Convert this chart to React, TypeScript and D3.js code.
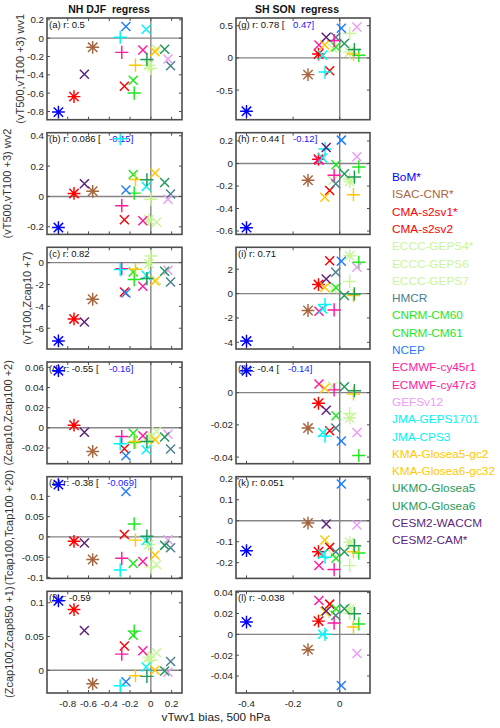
import React from 'react';
import * as d3 from 'd3';

// ---------------- DATA ----------------
const MODELS = [
  'BoM*', 'ISAC-CNR*', 'CMA-s2sv1*', 'CMA-s2sv2', 'ECCC-GEPS4*', 'ECCC-GEPS6', 'ECCC-GEPS7',
  'HMCR', 'CNRM-CM60', 'CNRM-CM61', 'NCEP', 'ECMWF-cy45r1', 'ECMWF-cy47r3', 'GEFSv12',
  'JMA-GEPS1701', 'JMA-CPS3', 'KMA-Glosea5-gc2', 'KMA-Glosea6-gc32', 'UKMO-Glosea5',
  'UKMO-Glosea6', 'CESM2-WACCM', 'CESM2-CAM*',
];
const COLORS = [
  '#0000ff', '#a8663f', '#ff0000', '#ff0000', '#c9f59b', '#c9f59b', '#c9f59b',
  '#4a7f8f', '#1ee81e', '#1ee81e', '#1f7cff', '#ff1aa0', '#ff1aa0', '#ea9cf7',
  '#00f5f5', '#00f5f5', '#ffc800', '#ffc800', '#1f9a57', '#1f9a57', '#5c1f7c', '#5c1f7c',
];
const MARKERS = [
  'star', 'star', 'star', 'x', 'star', 'x', 'plus',
  'x', 'x', 'plus', 'x', 'x', 'plus', 'x',
  'x', 'plus', 'x', 'plus', 'x', 'plus', 'x', 'star',
];

// vTwv1 bias, 500 hPa (x) for each model
const NH_X = [-0.89, -0.56, -0.74, -0.255, -0.02, 0.055, 0.0, 0.19, -0.17, -0.16, -0.24, -0.077, -0.28, 0.165, -0.045, -0.295, 0.04, -0.148, 0.133, -0.038, -0.64, null];
const SH_X = [-0.40, -0.136, -0.091, -0.043, 0.043, -0.03, 0.043, -0.017, -0.016, 0.082, 0.007, -0.089, -0.024, 0.074, -0.073, -0.063, -0.064, 0.059, 0.02, 0.063, -0.058, null];

// NH DJF regress values
const VAL_A = [-0.807, -0.10, -0.638, -0.525, -0.295, -0.12, -0.33, -0.30, -0.459, -0.599, 0.127, -0.13, -0.155, -0.228, 0.098, 0.01, -0.147, -0.295, -0.122, -0.232, -0.393, null];
const VAL_B = [-0.205, 0.034, 0.02, -0.153, -0.153, -0.17, -0.018, 0.016, 0.144, 0.022, 0.043, -0.16, -0.061, -0.018, 0.065, 0.38, 0.155, 0.112, 0.092, 0.11, 0.083, null];
const VAL_C = [-7.16, -3.35, -5.15, -2.68, -0.09, -1.62, 0.6, -1.77, -0.85, -1.55, -2.77, -2.16, -0.55, -0.70, -1.16, -0.64, -1.68, -0.61, -0.79, -1.46, -5.43, null];
const VAL_D = [0.0567, -0.0234, 0.0026, -0.0208, -0.010, -0.0036, -0.012, -0.0211, -0.0053, -0.0145, -0.0277, -0.0079, -0.0086, -0.0063, -0.0218, -0.0158, -0.0119, -0.0135, -0.0092, -0.0135, -0.0043, null];
const VAL_E = [0.129, -0.056, -0.011, 0.006, -0.019, -0.068, -0.074, -0.027, -0.066, 0.032, 0.112, -0.061, -0.053, -0.007, -0.009, -0.082, -0.045, -0.008, -0.021, 0.0016, -0.015, null];
const VAL_F = [0.103, -0.020, 0.090, 0.036, 0.019, 0.026, 0.015, 0.013, 0.052, 0.058, -0.017, 0.029, 0.024, -0.003, 0.005, -0.023, 0.000, -0.008, -0.001, -0.009, 0.059, null];

// SH SON regress values
const VAL_G = [-0.83, -0.26, 0.06, -0.20, 0.09, 0.15, 0.38, 0.32, 0.17, 0.04, 0.46, 0.20, 0.27, 0.48, 0.04, -0.22, 0.20, 0.06, 0.225, 0.13, 0.32, null];
const VAL_H = [-0.57, -0.149, 0.038, -0.24, -0.16, -0.15, -0.14, -0.18, -0.01, -0.03, 0.208, 0.03, -0.104, 0.06, 0.05, 0.13, -0.30, -0.277, -0.09, -0.12, 0.143, null];
const VAL_I = [-3.9, -1.39, 0.74, 2.7, 3.1, 0.4, 1.0, 1.75, 0.47, 2.57, 2.65, -1.45, -1.34, 2.16, -1.26, -0.9, 0.52, -0.16, -0.16, -0.03, 1.2, null];
const VAL_J = [0.0136, -0.022, -0.0066, -0.0237, -0.0158, 0.004, -0.013, -0.022, -0.0144, -0.039, -0.030, 0.0054, 0.0017, -0.0248, -0.0248, -0.027, 0.0027, -0.0008, 0.0037, 0.0012, -0.011, null];
const VAL_K = [-0.143, -0.011, -0.148, -0.127, -0.103, -0.16, -0.214, -0.148, -0.179, -0.154, 0.175, -0.214, -0.233, -0.02, -0.16, -0.174, -0.092, -0.148, -0.148, -0.119, -0.016, null];
const VAL_L = [0.0118, -0.0147, 0.0127, 0.029, 0.024, 0.02, 0.02, 0.018, 0.0246, 0.010, -0.049, 0.0325, 0.0108, -0.0185, 0.0, 0.0, 0.022, 0.007, 0.0246, 0.0198, 0.0223, null];

// tick values
const NH_XTICKS = [-0.8, -0.6, -0.4, -0.2, 0, 0.2];
const SH_XTICKS = [-0.4, -0.2, 0];
const TICKS_A = [-0.8, -0.6, -0.4, -0.2, 0, 0.2];
const TICKS_B = [-0.2, 0, 0.2, 0.4];
const TICKS_C = [-6, -4, -2, 0];
const TICKS_D = [-0.02, 0, 0.02, 0.04, 0.06];
const TICKS_E = [-0.1, -0.05, 0, 0.05, 0.1];
const TICKS_F = [0, 0.05, 0.1];
const TICKS_G = [-0.5, 0, 0.5];
const TICKS_H = [-0.6, -0.4, -0.2, 0, 0.2];
const TICKS_I = [-4, -2, 0, 2];
const TICKS_J = [-0.04, -0.02, 0];
const TICKS_K = [-0.2, -0.1, 0, 0.1, 0.2];
const TICKS_L = [-0.04, -0.02, 0, 0.02, 0.04];

const Y_LABELS = ['(vT500,vT100 +3) wv1', '(vT500,vT100 +3) wv2', '(vT100,Zcap10 +7)', '(Zcap10,Zcap100 +2)', '(Tcap100,Tcap100 +20)', '(Zcap100,Zcap850 +1)'];
const R_TEXT = ['0.5', '0.086', '0.82', '-0.55', '-0.38', '-0.59', '0.78', '0.44', '0.71', '-0.4', '0.051', '-0.038'];
const BRACKET = [null, '-0.15]', null, '-0.16]', '-0.069]', null, '0.47]', '-0.12]', null, '-0.14]', null, null];
const TITLES = ['NH DJF  regress', 'SH SON  regress'];
const X_TITLE = 'vTwv1 bias, 500 hPa';

// ---------------- LAYOUT ----------------
const FONT = 'Liberation Sans, Arial, Helvetica, sans-serif';
const COL_LEFT = [47, 236];
const COL_W = [135, 134];
const ROW_TOP = [18, 132.7, 247.3, 362, 476.7, 591.3];
const PANEL_H = 101.7;
const YLABEL_X = [20, 7, 27, 8, 9, 9];
const BRACKET_DX = [62, 62, 62, 62, 60, 62, 57, 57, 57, 52, 57, 57];

const PANELS = [
  { id: 'a', col: 0, row: 0, vals: VAL_A, domain: [-0.89, 0.22], ticks: TICKS_A },
  { id: 'b', col: 0, row: 1, vals: VAL_B, domain: [-0.25, 0.42], ticks: TICKS_B },
  { id: 'c', col: 0, row: 2, vals: VAL_C, domain: [-7.9, 1.4], ticks: TICKS_C },
  { id: 'd', col: 0, row: 3, vals: VAL_D, domain: [-0.0356, 0.0653], ticks: TICKS_D },
  { id: 'e', col: 0, row: 4, vals: VAL_E, domain: [-0.1025, 0.1485], ticks: TICKS_E },
  { id: 'f', col: 0, row: 5, vals: VAL_F, domain: [-0.0336, 0.117], ticks: TICKS_F },
  { id: 'g', col: 1, row: 0, vals: VAL_G, domain: [-0.96, 0.62], ticks: TICKS_G },
  { id: 'h', col: 1, row: 1, vals: VAL_H, domain: [-0.63, 0.274], ticks: TICKS_H },
  { id: 'i', col: 1, row: 2, vals: VAL_I, domain: [-4.55, 3.8], ticks: TICKS_I },
  { id: 'j', col: 1, row: 3, vals: VAL_J, domain: [-0.0441, 0.019], ticks: TICKS_J },
  { id: 'k', col: 1, row: 4, vals: VAL_K, domain: [-0.275, 0.21], ticks: TICKS_K },
  { id: 'l', col: 1, row: 5, vals: VAL_L, domain: [-0.0563, 0.0413], ticks: TICKS_L },
];

const fmt = (v: number) => String(+v.toFixed(4));

function markerPath(kind: string): string {
  const p = d3.path();
  if (kind === 'x') {
    const r = 4.5;
    p.moveTo(-r, -r); p.lineTo(r, r);
    p.moveTo(-r, r); p.lineTo(r, -r);
  } else if (kind === 'plus') {
    const r = 6.6;
    p.moveTo(-r, 0); p.lineTo(r, 0);
    p.moveTo(0, -r); p.lineTo(0, r);
  } else {
    const r = 6.4;
    const d = 4.7;
    p.moveTo(-r, 0); p.lineTo(r, 0);
    p.moveTo(0, -r); p.lineTo(0, r);
    p.moveTo(-d, -d); p.lineTo(d, d);
    p.moveTo(-d, d); p.lineTo(d, -d);
  }
  return p.toString();
}

function Panel({ cfg, index }: { cfg: any; index: number }) {
  const left = COL_LEFT[cfg.col];
  const w = COL_W[cfg.col];
  const top = ROW_TOP[cfg.row];
  const xDomain = cfg.col === 0 ? [-1.0, 0.3] : [-0.445, 0.13];
  const xs = cfg.col === 0 ? NH_X : SH_X;
  const xTicks = cfg.col === 0 ? NH_XTICKS : SH_XTICKS;
  const x = d3.scaleLinear().domain(xDomain).range([left, left + w]);
  const y = d3.scaleLinear().domain(cfg.domain).range([top + PANEL_H, top]);
  const bottom = top + PANEL_H;
  const right = left + w;
  const tl = 3;
  const clipId = `clip-${cfg.id}`;
  const frame = '#4d4d4d';
  return (
    <g>
      <defs>
        <clipPath id={clipId}>
          <rect x={left} y={top} width={w} height={PANEL_H} />
        </clipPath>
      </defs>
      <rect x={left} y={top} width={w} height={PANEL_H} fill="#fff" />
      {/* zero lines */}
      <line x1={x(0)} x2={x(0)} y1={top} y2={bottom} stroke="#858585" strokeWidth={1.4} />
      <line x1={left} x2={right} y1={y(0)} y2={y(0)} stroke="#858585" strokeWidth={1.4} />
      {/* ticks */}
      {xTicks.map((t) => (
        <g key={'xt' + t}>
          <line x1={x(t)} x2={x(t)} y1={top} y2={top + tl} stroke={frame} strokeWidth={1} />
          <line x1={x(t)} x2={x(t)} y1={bottom} y2={bottom - tl} stroke={frame} strokeWidth={1} />
        </g>
      ))}
      {cfg.ticks.map((t: number) => (
        <g key={'yt' + t}>
          <line x1={left} x2={left + tl} y1={y(t)} y2={y(t)} stroke={frame} strokeWidth={1} />
          <line x1={right} x2={right - tl} y1={y(t)} y2={y(t)} stroke={frame} strokeWidth={1} />
          <text x={left - 3} y={y(t)} dy="0.35em" textAnchor="end" fontSize={9.8} fill="#262626" fontFamily={FONT}>
            {fmt(t)}
          </text>
        </g>
      ))}
      {cfg.row === 5 &&
        xTicks.map((t) => (
          <text key={'xl' + t} x={x(t)} y={bottom + 13.5} textAnchor="middle" fontSize={9.8} fill="#262626" fontFamily={FONT}>
            {fmt(t)}
          </text>
        ))}
      {/* annotation */}
      <text x={left + 2} y={top + 9.5} fontSize={9.5} fill="#111" fontFamily={FONT} style={{ whiteSpace: 'pre' }}>
        {`(${cfg.id}) r: ${R_TEXT[index]}${BRACKET[index] ? ' [' : ''}`}
      </text>
      {BRACKET[index] && (
        <text x={left + BRACKET_DX[index]} y={top + 9.5} fontSize={9.5} fill="#1a1aff" fontFamily={FONT}>
          {BRACKET[index]}
        </text>
      )}
      {/* markers */}
      <g clipPath={`url(#${clipId})`}>
        {MODELS.map((m, i) => {
          const xv = xs[i];
          const yv = cfg.vals[i];
          if (xv == null || yv == null) return null;
          return (
            <path
              key={m}
              d={markerPath(MARKERS[i])}
              transform={`translate(${x(xv)},${y(yv)})`}
              stroke={COLORS[i]}
              strokeWidth={1.45}
              fill="none"
            />
          );
        })}
      </g>
      {/* frame */}
      <rect x={left} y={top} width={w} height={PANEL_H} fill="none" stroke={frame} strokeWidth={1.6} />
      {cfg.col === 0 && (
        <text
          transform={`translate(${YLABEL_X[cfg.row]},${top + PANEL_H / 2}) rotate(-90)`}
          textAnchor="middle"
          dominantBaseline="central"
          fontSize={11}
          fill="#333"
          fontFamily={FONT}
        >
          {Y_LABELS[cfg.row]}
        </text>
      )}
    </g>
  );
}

export default function App() {
  return (
    <svg
      width={500}
      height={728}
      viewBox="0 0 500 728"
      style={{ position: 'absolute', left: 0, top: 0, background: '#fff' }}
    >
      <rect x={0} y={0} width={500} height={728} fill="#fff" />
      <text x={109} y={13} textAnchor="middle" fontSize={10.5} fontWeight="bold" fill="#111" fontFamily={FONT} style={{ whiteSpace: 'pre' }}>
        {TITLES[0]}
      </text>
      <text x={297} y={13} textAnchor="middle" fontSize={10.5} fontWeight="bold" fill="#111" fontFamily={FONT} style={{ whiteSpace: 'pre' }}>
        {TITLES[1]}
      </text>
      {PANELS.map((p, i) => (
        <Panel key={p.id} cfg={p} index={i} />
      ))}
      <text x={216} y={720.5} textAnchor="middle" fontSize={11.8} fill="#222" fontFamily={FONT}>
        {X_TITLE}
      </text>
      {MODELS.map((m, i) => (
        <text key={m} x={392} y={181 + i * 17.3} fontSize={11.8} fill={COLORS[i]} fontFamily={FONT}>
          {m}
        </text>
      ))}
    </svg>
  );
}
